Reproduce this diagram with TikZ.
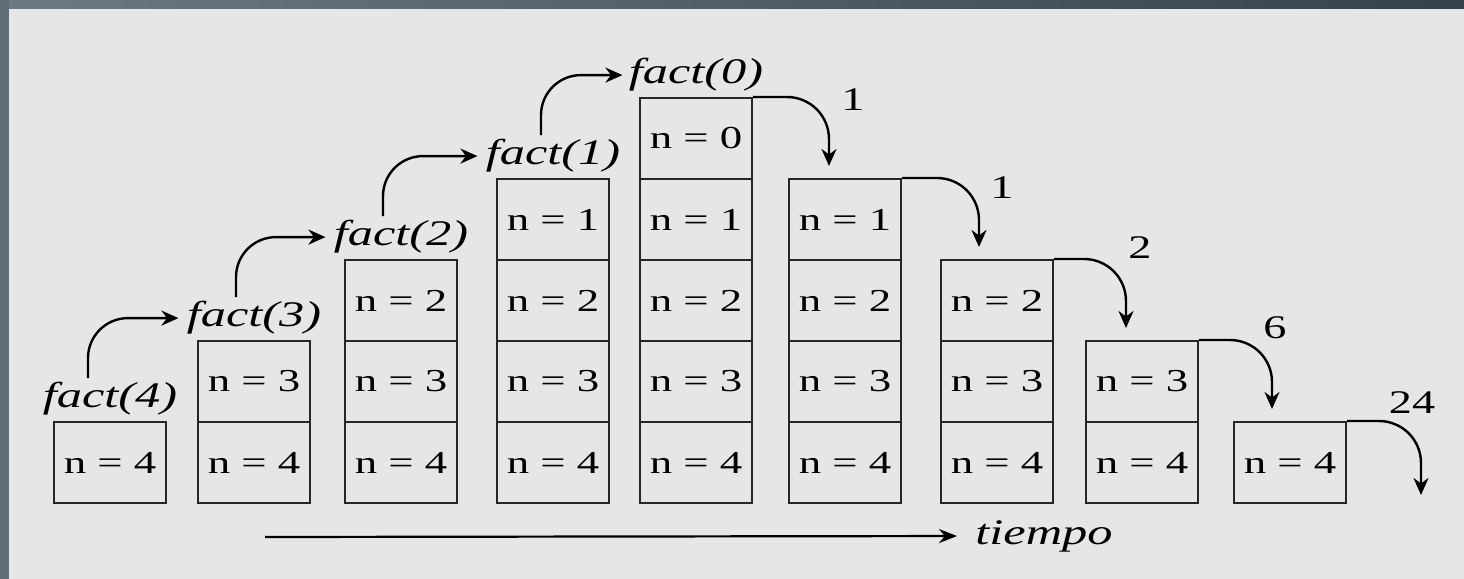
\documentclass[tikz,border=0pt]{standalone}
\usepackage{fontspec}
\setmainfont[FakeStretch=1.4]{Liberation Serif}
\usetikzlibrary{positioning, arrows.meta}
\definecolor{bggray}{HTML}{E6E6E6}
\definecolor{framedark}{HTML}{36414C}
\definecolor{framelight}{HTML}{6C7983}
\tikzset{
	cellnode/.style={
			rectangle,
			draw=black!85,
			line width=1pt,
			minimum width=56pt,
			minimum height=40.5pt,
			inner sep=0pt,
			font=\fontsize{16}{19}\selectfont
		},
	callnode/.style={
			inner sep=1pt,
			font=\fontsize{18}{21}\selectfont\itshape
		},
	valuenode/.style={
			inner sep=1pt,
			font=\fontsize{16.5}{19}\selectfont
		},
	flowarrow/.style={
			line width=1.2pt,
			-{Stealth[length=8.5pt,width=7.5pt]}
		}
}

\begin{document}
\begin{tikzpicture}[x=0.5pt, y=-0.5pt]
% background and frame
\fill[bggray] (0,0) rectangle (1464,579);
\shade[left color=framelight, right color=framedark] (0,0) rectangle (1464,8);
\fill[framelight!90!black] (0,0) rectangle (9,579);
\useasboundingbox (0,0) rectangle (1464,579);

% stacks
\node[cellnode] (s1n4) at (110,462.5) {n = 4};

\node[cellnode] (s2n4) at (254,462.5) {n = 4};
\node[cellnode] (s2n3) at (254,381.5) {n = 3};

\node[cellnode] (s3n4) at (401,462.5) {n = 4};
\node[cellnode] (s3n3) at (401,381.5) {n = 3};
\node[cellnode] (s3n2) at (401,300.5) {n = 2};

\node[cellnode] (s4n4) at (553,462.5) {n = 4};
\node[cellnode] (s4n3) at (553,381.5) {n = 3};
\node[cellnode] (s4n2) at (553,300.5) {n = 2};
\node[cellnode] (s4n1) at (553,219.5) {n = 1};

\node[cellnode] (s5n4) at (696,462.5) {n = 4};
\node[cellnode] (s5n3) at (696,381.5) {n = 3};
\node[cellnode] (s5n2) at (696,300.5) {n = 2};
\node[cellnode] (s5n1) at (696,219.5) {n = 1};
\node[cellnode] (s5n0) at (696,138.5) {n = 0};

\node[cellnode] (s6n4) at (845,462.5) {n = 4};
\node[cellnode] (s6n3) at (845,381.5) {n = 3};
\node[cellnode] (s6n2) at (845,300.5) {n = 2};
\node[cellnode] (s6n1) at (845,219.5) {n = 1};

\node[cellnode] (s7n4) at (997,462.5) {n = 4};
\node[cellnode] (s7n3) at (997,381.5) {n = 3};
\node[cellnode] (s7n2) at (997,300.5) {n = 2};

\node[cellnode] (s8n4) at (1142,462.5) {n = 4};
\node[cellnode] (s8n3) at (1142,381.5) {n = 3};

\node[cellnode] (s9n4) at (1290,462.5) {n = 4};

% calls
\node[callnode, above=1.5pt of s1n4] (f4) {fact(4)};
\node[callnode, above=1.5pt of s2n3] (f3) {fact(3)};
\node[callnode, above=1.5pt of s3n2] (f2) {fact(2)};
\node[callnode, above=1.5pt of s4n1] (f1) {fact(1)};
\node[callnode, above=1.5pt of s5n0] (f0) {fact(0)};

\draw[flowarrow, rounded corners=20pt] ([xshift=-11pt,yshift=1pt]f4.north) |- ([xshift=-3pt]f3.west);
\draw[flowarrow, rounded corners=20pt] ([xshift=-9pt,yshift=1pt]f3.north) |- ([xshift=-3pt]f2.west);
\draw[flowarrow, rounded corners=20pt] ([xshift=-9pt,yshift=1pt]f2.north) |- ([xshift=-3pt]f1.west);
\draw[flowarrow, rounded corners=20pt] ([xshift=-6pt,yshift=1pt]f1.north) |- ([xshift=-2pt]f0.west);

% returns
\node[valuenode] (v0) at (853,100) {1};
\node[valuenode] (v1) at (1002,188) {1};
\node[valuenode] (v2) at (1140,248) {2};
\node[valuenode] (v3) at (1275,328) {6};
\node[valuenode] (v4) at (1412,403) {24};
\coordinate (out) at (1421,495);

\draw[flowarrow, rounded corners=21pt] (s5n0.north east) -| ([xshift=-8pt,yshift=6pt]s6n1.north);
\draw[flowarrow, rounded corners=21pt] (s6n1.north east) -| ([xshift=-9pt,yshift=6pt]s7n2.north);
\draw[flowarrow, rounded corners=21pt] (s7n2.north east) -| ([xshift=-8pt,yshift=6pt]s8n3.north);
\draw[flowarrow, rounded corners=21pt] (s8n3.north east) -| ([xshift=-9pt,yshift=6pt]s9n4.north);
\draw[flowarrow, rounded corners=21pt] (s9n4.north east) -| (out);

% time axis
\coordinate (t0) at (265,537);
\node[callnode] (tm) at (1044,536) {tiempo};
\draw[line width=1.1pt, -{Stealth[length=9pt,width=7pt]}, shorten >=8pt] (t0) -- (tm.west);

\end{tikzpicture}
\end{document}
